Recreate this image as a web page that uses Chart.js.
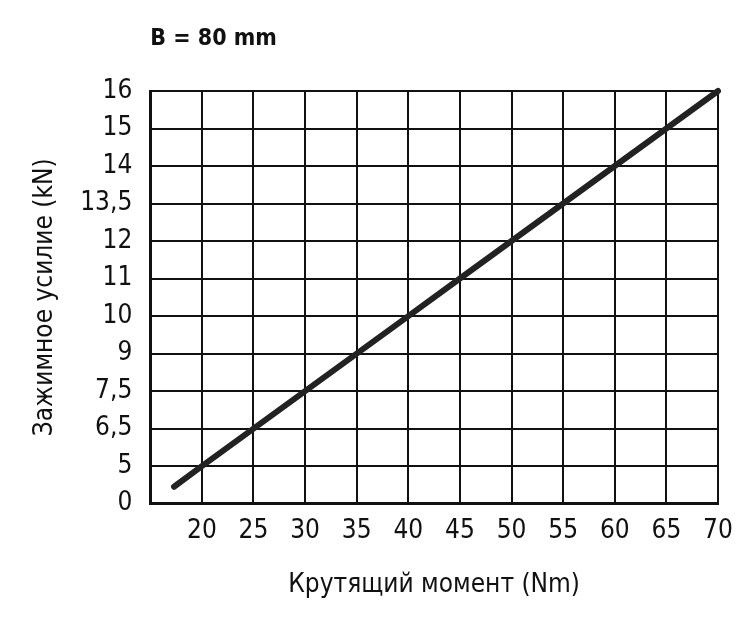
<!DOCTYPE html>
<html>
<head>
<meta charset="utf-8">
<script src="https://cdn.jsdelivr.net/npm/chart.js@4"></script>
<style>
  html, body { margin: 0; padding: 0; background: #fff; }
  #wrap { width: 750px; height: 623px; }
</style>
</head>
<body>
<div id="wrap"><canvas id="chart"></canvas></div>
<script>
// clamp force tick labels, equally spaced on the axis
const forceLabels = ['0', '5', '6,5', '7,5', '9', '10', '11', '12', '13,5', '14', '15', '16'];
// torque (Nm)
const torque = [17.3, 20, 25, 30, 35, 40, 45, 50, 55, 60, 65, 70];
// position of the curve on the force axis (index into forceLabels)
const forceLevel = [0.45, 1, 2, 3, 4, 5, 6, 7, 8, 9, 10, 11];

const FONT = '"Liberation Sans Narrow", "DejaVu Sans Condensed", "Roboto", sans-serif';

const titlePlugin = {
  id: 'topTitle',
  afterDraw(chart) {
    const ctx = chart.ctx;
    ctx.save();
    ctx.font = 'bold 23px ' + FONT;
    ctx.fillStyle = '#111';
    ctx.textBaseline = 'middle';
    ctx.fillText('B = 80 mm', chart.chartArea.left, 39);
    ctx.restore();
  }
};

new Chart(document.getElementById('chart'), {
  type: 'line',
  data: {
    datasets: [{
      data: torque.map((t, i) => ({ x: t, y: forceLevel[i] })),
      borderColor: '#222',
      borderWidth: 6,
      borderCapStyle: 'round',
      pointRadius: 0,
      tension: 0,
      clip: false
    }]
  },
  options: {
    responsive: true,
    maintainAspectRatio: false,
    animation: false,
    layout: { padding: { top: 91, right: 32, left: 26, bottom: 18 } },
    plugins: {
      legend: { display: false },
      tooltip: { enabled: false }
    },
    scales: {
      x: {
        type: 'linear',
        min: 15,
        max: 70,
        ticks: {
          stepSize: 5,
          color: '#111',
          font: { family: FONT, size: 26 },
          padding: 12,
          callback: (v) => v === 15 ? '' : v
        },
        grid: { color: '#111', lineWidth: 2, drawTicks: false },
        border: { color: '#111', width: 3 },
        title: {
          display: true,
          text: 'Крутящий момент (Nm)',
          color: '#111',
          font: { family: FONT, size: 26 },
          padding: { top: 11, bottom: 4 }
        }
      },
      y: {
        type: 'linear',
        min: 0,
        max: 11,
        ticks: {
          stepSize: 1,
          color: '#111',
          font: { family: FONT, size: 26 },
          padding: 18,
          callback: (v) => forceLabels[v]
        },
        grid: { color: '#111', lineWidth: 2, drawTicks: false },
        border: { color: '#111', width: 3 },
        title: {
          display: true,
          text: 'Зажимное усилие (kN)',
          color: '#111',
          font: { family: FONT, size: 26 },
          padding: { top: 4, bottom: 1 }
        }
      }
    }
  },
  plugins: [titlePlugin]
});
</script>
</body>
</html>
